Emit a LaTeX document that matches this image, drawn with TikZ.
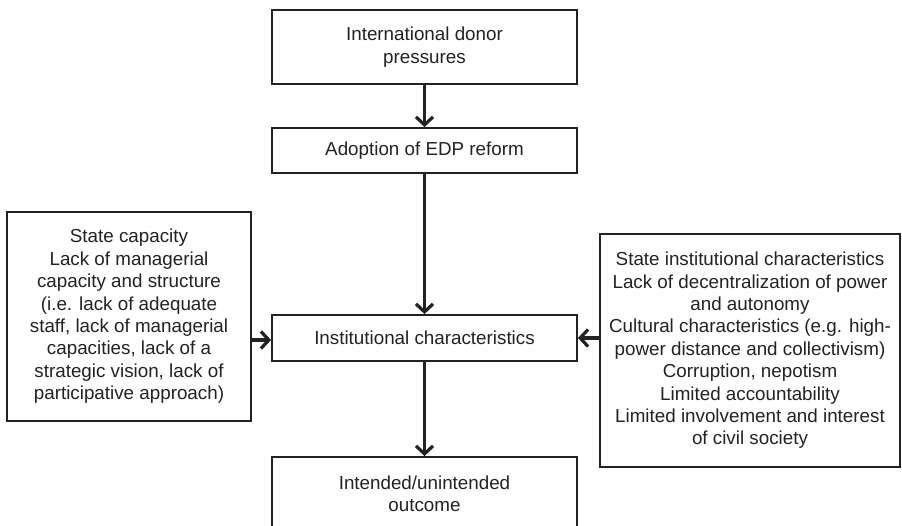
\documentclass[tikz,border=0pt]{standalone}
\usepackage{fontspec}
\setmainfont{Liberation Sans}
\usetikzlibrary{arrows.meta}
\definecolor{ink}{HTML}{222222}
\begin{document}
\begin{tikzpicture}[x=1pt,y=-1pt,
  box/.style={draw=ink,line width=1.8pt,align=center,inner sep=0pt,text=ink,
    font=\fontsize{18.8}{22.4}\selectfont},
  flow/.style={draw=ink,line width=3.2pt,-{Straight Barb[length=8pt,width=17pt,line width=3.2pt]}}]
\useasboundingbox (0,0) rectangle (902,526);
\node[box,minimum width=305pt,minimum height=74pt] (top) at (424.5,47) {International donor\\pressures};
\node[box,minimum width=305pt,minimum height=45pt] (adopt) at (424.5,150.5) {Adoption of EDP reform};
\node[box,minimum width=305pt,minimum height=46pt] (inst) at (424.5,338) {Institutional characteristics};
\node[box,minimum width=305pt,minimum height=74pt] (out) at (424.5,494) {Intended/unintended\\outcome};
\node[box,minimum width=244pt,minimum height=209pt] (left) at (129,316.5) {State capacity\\Lack of managerial\\capacity and structure\\(i.e. lack of adequate\\staff, lack of managerial\\capacities, lack of a\\strategic vision, lack of\\participative approach)};
\node[box,minimum width=300pt,minimum height=233pt] (right) at (750,350.5) {State institutional characteristics\\Lack of decentralization of power\\and autonomy\\Cultural characteristics (e.g. high-\\power distance and collectivism)\\Corruption, nepotism\\Limited accountability\\Limited involvement and interest\\of civil society};
\draw[flow] (top) -- (adopt);
\draw[flow] (adopt) -- (inst);
\draw[flow] (inst) -- (out);
\draw[flow] ([yshift=-2pt]inst.west -| left.east) -- ([yshift=-2pt]inst.west);
\draw[flow] (inst.east -| right.west) -- (inst.east);
\end{tikzpicture}
\end{document}
